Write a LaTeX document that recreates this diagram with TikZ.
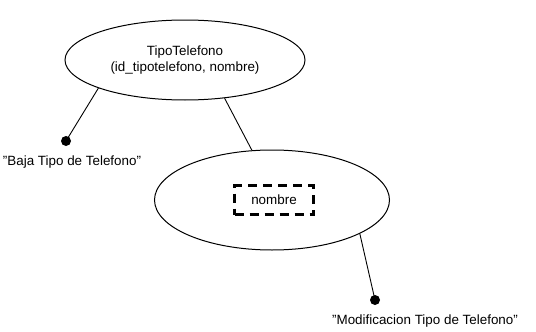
\documentclass[tikz,border=0pt]{standalone}
\usepackage{fontspec}
\setmainfont{Liberation Sans}
\usetikzlibrary{shapes.geometric}
\begin{document}
\begin{tikzpicture}[x=1pt,y=-1pt,
  every node/.style={font=\fontsize{13.4}{15.5}\selectfont},
  entity/.style={draw,line width=1pt,ellipse,inner sep=0pt},
  link/.style={draw,line width=0.9pt},
  endpoint/.style={circle,fill=black,inner sep=0pt,minimum size=10pt},
  keybox/.style={draw,line width=3pt,dash pattern=on 9pt off 6pt,minimum width=79pt,minimum height=29pt,inner sep=0pt}]
\useasboundingbox (0,0) rectangle (536,332);
\node[entity,minimum width=240pt,minimum height=80pt,align=center] (tipo) at (185,60)
  {TipoTelefono\\(id\_tipotelefono, nombre)};
\node[entity,minimum width=235pt,minimum height=100pt] (mod) at (272,200) {};
\node[keybox] (key) at (274,200) {nombre};
\node[endpoint] (baja) at (66,141) {};
\node (bajalbl) at (72,162) {\symbol{34}Baja Tipo de Telefono\symbol{34}};
\node[endpoint] (modp) at (375,300) {};
\node (modlbl) at (425,321) {\symbol{34}Modificacion Tipo de Telefono\symbol{34}};
\draw[link] (tipo.-162) -- (baja.center);
\draw[link] (tipo.-44) -- (mod.112);
\draw[link] (mod.-21) -- (modp.center);
\end{tikzpicture}
\end{document}
